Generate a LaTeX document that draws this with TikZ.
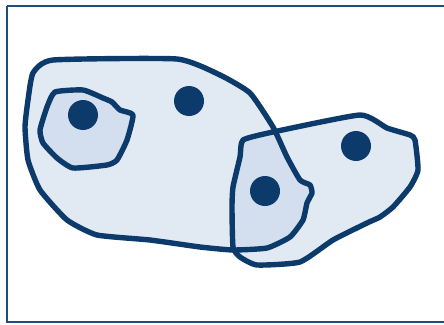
\documentclass[tikz,border=0pt]{standalone}
\usepackage{tikz}
\definecolor{navy}{HTML}{0C3A6B}
\definecolor{framecol}{HTML}{1F4E7E}
\definecolor{setfill}{HTML}{C4D4E8}

\begin{document}
\begin{tikzpicture}[
  x=1pt, y=-1pt,
  frame/.style={draw=framecol, line width=2pt},
  region/.style={fill=setfill, fill opacity=0.5},
  rim/.style={draw=navy, line width=5.4pt, line join=round},
  elem/.style={fill=navy}
]
\path[use as bounding box] (0,0) rectangle (444,324);
\draw[frame] (7,6) -- (460,6) (7,6) -- (7,322) -- (460,322);

% sets
\def\setA{(33,73) (53,60) (177,59) (220,75) (250,93) (273,127) (287,157)
  (300,180) (310,185) (312,193) (307,203) (303,220) (290,237) (267,248)
  (233,250) (200,247) (150,240) (97,235) (67,220) (40,190) (28,160)
  (25,127) (28,100)}
\def\setB{(243,140) (273,132) (360,115) (387,128) (410,135) (415,140)
  (418,170) (410,187) (393,207) (380,217) (367,223) (333,240) (300,262)
  (257,265) (240,257) (233,247) (232,207) (233,187) (240,157)}
\def\setC{(55,92) (83,90) (103,98) (112,102) (120,110) (133,115) (127,140)
  (117,160) (107,165) (73,168) (57,158) (43,143) (40,130) (47,107)}

\fill[region] plot[smooth cycle, tension=0.3] coordinates {\setA};
\fill[region] plot[smooth cycle, tension=0.3] coordinates {\setB};
\fill[region] plot[smooth cycle, tension=0.3] coordinates {\setC};
\draw[rim] plot[smooth cycle, tension=0.3] coordinates {\setA};
\draw[rim] plot[smooth cycle, tension=0.3] coordinates {\setB};
\draw[rim] plot[smooth cycle, tension=0.3] coordinates {\setC};

% elements
\foreach \px/\py in {83/115, 189/101, 356/146, 265/191}
  \fill[elem] (\px,\py) circle (15);
\end{tikzpicture}
\end{document}
